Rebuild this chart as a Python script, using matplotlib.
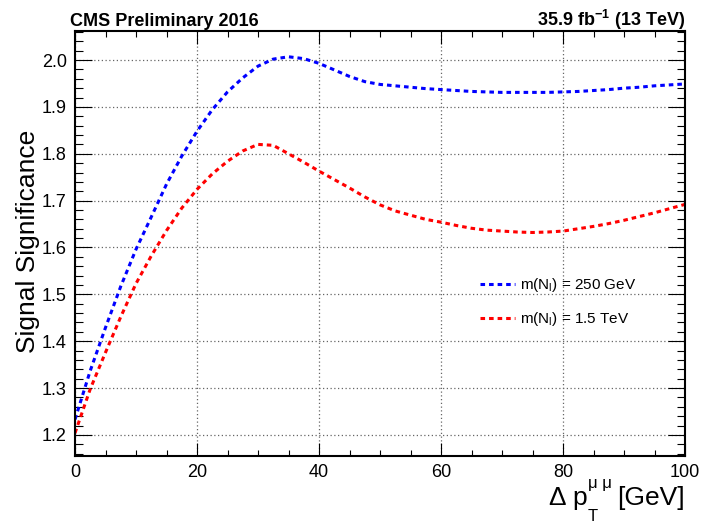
import numpy as np
import matplotlib
matplotlib.use('Agg')
import matplotlib.pyplot as plt
from matplotlib.ticker import MultipleLocator

plt.rcParams['font.family'] = ['Liberation Sans', 'DejaVu Sans']
plt.rcParams['mathtext.fontset'] = 'custom'
plt.rcParams['mathtext.rm'] = 'Liberation Sans'
plt.rcParams['mathtext.it'] = 'Liberation Sans'
plt.rcParams['mathtext.bf'] = 'Liberation Sans:bold'

# delta pT cut scan [GeV]
dpt = [0, 2.5, 5, 7.5, 10, 12.5, 15, 17.5, 20, 22.5, 25, 27.5, 30, 32.5, 35,
       37.5, 40, 42.5, 45, 47.5, 50, 52.5, 55, 57.5, 60, 62.5, 65, 67.5, 70,
       72.5, 75, 77.5, 80, 82.5, 85, 87.5, 90, 92.5, 95, 97.5, 100]

# significance, m(N) = 250 GeV
sig_250 = [1.233, 1.337, 1.429, 1.517, 1.596, 1.665, 1.735, 1.795, 1.848,
           1.894, 1.932, 1.962, 1.987, 2.002, 2.007, 2.003, 1.993, 1.979,
           1.965, 1.954, 1.948, 1.945, 1.942, 1.939, 1.937, 1.935, 1.933,
           1.932, 1.931, 1.931, 1.931, 1.931, 1.932, 1.933, 1.935, 1.937,
           1.940, 1.942, 1.945, 1.947, 1.949]

# significance, m(N) = 1.5 TeV
sig_1500 = [1.204, 1.298, 1.376, 1.452, 1.523, 1.582, 1.636, 1.684, 1.724,
            1.757, 1.784, 1.806, 1.820, 1.818, 1.800, 1.782, 1.763, 1.745,
            1.727, 1.708, 1.691, 1.678, 1.669, 1.660, 1.654, 1.647, 1.641,
            1.637, 1.635, 1.633, 1.632, 1.633, 1.635, 1.640, 1.645, 1.651,
            1.658, 1.666, 1.674, 1.683, 1.692]

W, H = 704, 529
fig = plt.figure(figsize=(W / 100, H / 100), dpi=100)
ax = fig.add_axes([75/W, 1 - 456/H, 610/W, 425/H])


def px(x, y):
    # pixel position (from top-left) -> figure fraction
    return x / W, 1 - y / H


dots = (0, (1.5, 1.3))
ax.plot(dpt, sig_250, color='#0000ff', lw=2.2, linestyle=dots,
        label='m(N$_{l}$) = 250 GeV')
ax.plot(dpt, sig_1500, color='#ff0000', lw=2.2, linestyle=dots,
        label='m(N$_{l}$) = 1.5 TeV')

ax.set_xlim(0, 100)
ax.set_ylim(1.155, 2.062)

ax.xaxis.set_major_locator(MultipleLocator(20))
ax.xaxis.set_minor_locator(MultipleLocator(5))
ax.yaxis.set_major_locator(MultipleLocator(0.1))
ax.yaxis.set_minor_locator(MultipleLocator(0.02))

ax.grid(True, which='major', color='#666666', lw=0.9, linestyle=(0, (1, 2)))
ax.set_axisbelow(True)

ax.tick_params(which='both', direction='in', top=True, right=True,
               labelsize=13, width=0.8, pad=6)
ax.tick_params(axis='x', which='major', length=9.5)
ax.tick_params(axis='x', which='minor', length=4)
ax.tick_params(axis='y', which='major', length=12)
ax.tick_params(axis='y', which='minor', length=6)
for sp in ax.spines.values():
    sp.set_linewidth(1.5)

ax.legend(loc='center left', bbox_to_anchor=((480 - 75) / 610, 1 - (302 - 31) / 425),
          frameon=False, fontsize=11, handlelength=2.3, handletextpad=0.3,
          labelspacing=1.05, borderpad=0, borderaxespad=0)

fig.text(*px(70, 26), 'CMS Preliminary 2016', fontsize=13,
         fontweight='bold', ha='left', va='baseline')
fig.text(*px(685, 26), '35.9 fb$^{\\mathbf{-1}}$ (13 TeV)', fontsize=13,
         fontweight='bold', ha='right', va='baseline')

fig.text(*px(28, 130), 'Signal Significance', fontsize=19,
         rotation=90, ha='center', va='top')

# x title, right-aligned at the axis end, built from right to left
renderer = fig.canvas.get_renderer()


def left_edge(t):
    return t.get_window_extent(renderer).x0


unit = fig.text(*px(685, 505), '[GeV]', fontsize=19, ha='right', va='baseline')
x_sup = left_edge(unit) - 6
sup = fig.text(*px(x_sup, 488), '\u03bc \u03bc', fontsize=12, ha='right', va='baseline')
x_sub = left_edge(sup)
fig.text(*px(x_sub, 521), 'T', fontsize=12, ha='left', va='baseline')
p = fig.text(*px(x_sub - 1, 505), 'p', fontsize=19, ha='right', va='baseline')
fig.text(*px(left_edge(p) - 6, 505), '\u0394', fontsize=19, ha='right', va='baseline')

fig.savefig('out.png', dpi=100)
